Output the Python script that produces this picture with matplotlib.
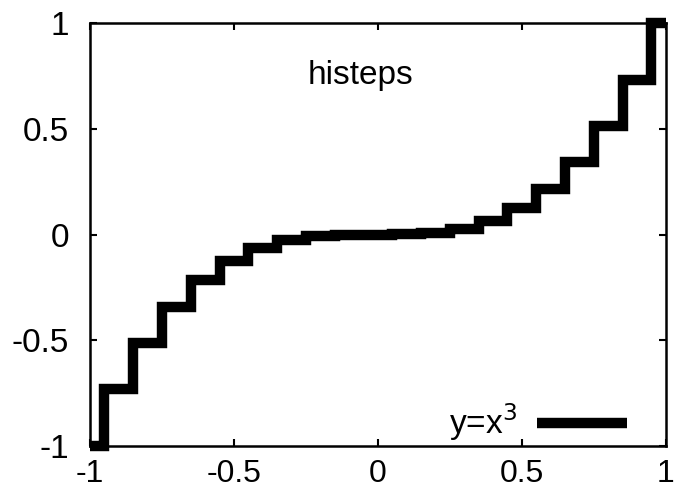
import numpy as np
import matplotlib.pyplot as plt

plt.rcParams['font.family'] = ['Liberation Sans', 'DejaVu Sans']

# sample points of y = x^3 (gnuplot "with histeps", 21 samples)
x_vals = [-1.0, -0.9, -0.8, -0.7, -0.6, -0.5, -0.4, -0.3, -0.2, -0.1, 0.0,
          0.1, 0.2, 0.3, 0.4, 0.5, 0.6, 0.7, 0.8, 0.9, 1.0]
y_vals = [-1.0, -0.729, -0.512, -0.343, -0.216, -0.125, -0.064, -0.027, -0.008, -0.001, 0.0,
          0.001, 0.008, 0.027, 0.064, 0.125, 0.216, 0.343, 0.512, 0.729, 1.0]
xticks = [-1, -0.5, 0, 0.5, 1]
yticks = [-1, -0.5, 0, 0.5, 1]
tick_labels = ['-1', '-0.5', '0', '0.5', '1']

fig = plt.figure(figsize=(6.8, 4.93), dpi=100)
ax = fig.add_axes([0.1324, 0.0953, 0.8466, 0.858])

ax.step(x_vals, y_vals, where='mid', color='black', lw=7.5,
        solid_joinstyle='miter', solid_capstyle='butt', clip_on=False,
        label='y=x$^3$')

ax.set_xlim(-1, 1)
ax.set_ylim(-1, 1)
ax.set_xticks(xticks)
ax.set_xticklabels(tick_labels)
ax.set_yticks(yticks)
ax.set_yticklabels(tick_labels)
ax.tick_params(direction='in', top=True, right=True, length=5, width=1.5,
               labelsize=24)
ax.tick_params(axis='y', pad=15)
ax.tick_params(axis='x', pad=9, labelsize=23)
for s in ax.spines.values():
    s.set_linewidth(1.8)

ax.text(0.469, 0.877, 'histeps', transform=ax.transAxes, ha='center', va='center',
        fontsize=24)

ax.legend(loc='center right', bbox_to_anchor=(0.932, 0.056), markerfirst=False,
          frameon=False, fontsize=24, handlelength=2.7, handletextpad=0.6,
          borderaxespad=0, borderpad=0)

fig.savefig('out.png', dpi=100)
